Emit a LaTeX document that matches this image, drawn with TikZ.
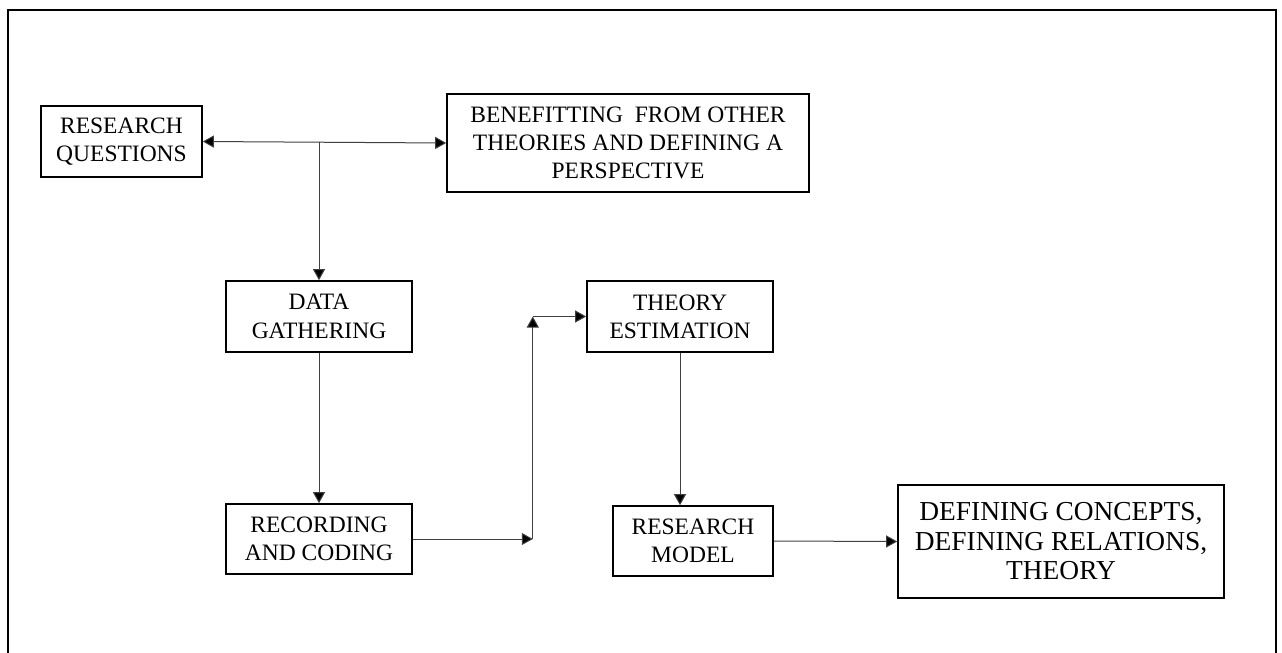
\documentclass[tikz,border=0pt]{standalone}
\usepackage{fontspec}
\setmainfont{Liberation Serif}
\usetikzlibrary{arrows.meta,calc}

\tikzset{
  stagebox/.style={draw=black, line width=1.6pt, align=center, inner sep=0pt,
    font=\fontsize{23.5}{28.3}\selectfont},
  bigbox/.style={stagebox, font=\fontsize{27.4}{29.5}\selectfont},
  tip/.style={Triangle[length=11pt,width=12pt,fill=black]},
  link/.style={draw=black!75, line width=1pt, -{Triangle[length=11pt,width=12pt,fill=black]}},
  frame/.style={draw=black, line width=1.4pt}
}

\begin{document}
\begin{tikzpicture}[x=1pt,y=-1pt]
  \useasboundingbox (0,0) rectangle (1282,653);

  % open outer frame
  \draw[frame] (8,653) -- (8,10) -- (1276,10) -- (1276,653);

  % stages
  \node[stagebox, minimum width=161pt, minimum height=71pt] (rq) at (121.5,141.5)
    {RESEARCH\\QUESTIONS};
  \node[stagebox, minimum width=362pt, minimum height=98pt] (ben) at (628,143)
    {BENEFITTING~ FROM OTHER\\THEORIES AND DEFINING A\\PERSPECTIVE};
  \node[stagebox, minimum width=186pt, minimum height=71pt] (dg) at (319,316.5)
    {DATA\\GATHERING};
  \node[stagebox, minimum width=186pt, minimum height=71pt] (te) at (680,316.5)
    {THEORY\\ESTIMATION};
  \node[stagebox, minimum width=186pt, minimum height=70pt] (rc) at (319,539)
    {RECORDING\\AND CODING};
  \node[stagebox, minimum width=160pt, minimum height=70pt] (rm) at (693,541)
    {RESEARCH\\MODEL};
  \node[bigbox, minimum width=326pt, minimum height=113pt] (def) at (1061,541.5)
    {\raisebox{8pt}{\parbox{320pt}{\centering DEFINING CONCEPTS,\\DEFINING RELATIONS,\\THEORY}}};

  % junction points
  \coordinate (split) at (dg.north |- rq.east);
  \coordinate (bendlow) at ($(rc.east)+(120,0)$);
  \coordinate (bendhigh) at (bendlow |- te.west);

  % connectors
  \draw[link, {Triangle[length=11pt,width=12pt,fill=black]}-{Triangle[length=11pt,width=12pt,fill=black]}]
    (rq.east) -- (ben.west);
  \draw[link] (split) -- (dg.north);
  \draw[link] (dg.south) -- (rc.north);
  \draw[link] (rc.east) -- (bendlow);
  \draw[link] (bendlow) -- (bendhigh);
  \draw[link] (bendhigh) -- (te.west);
  \draw[link] (te.south) -- (te.south |- rm.north);
  \draw[link] (rm.east) -- (def.west);
\end{tikzpicture}
\end{document}
